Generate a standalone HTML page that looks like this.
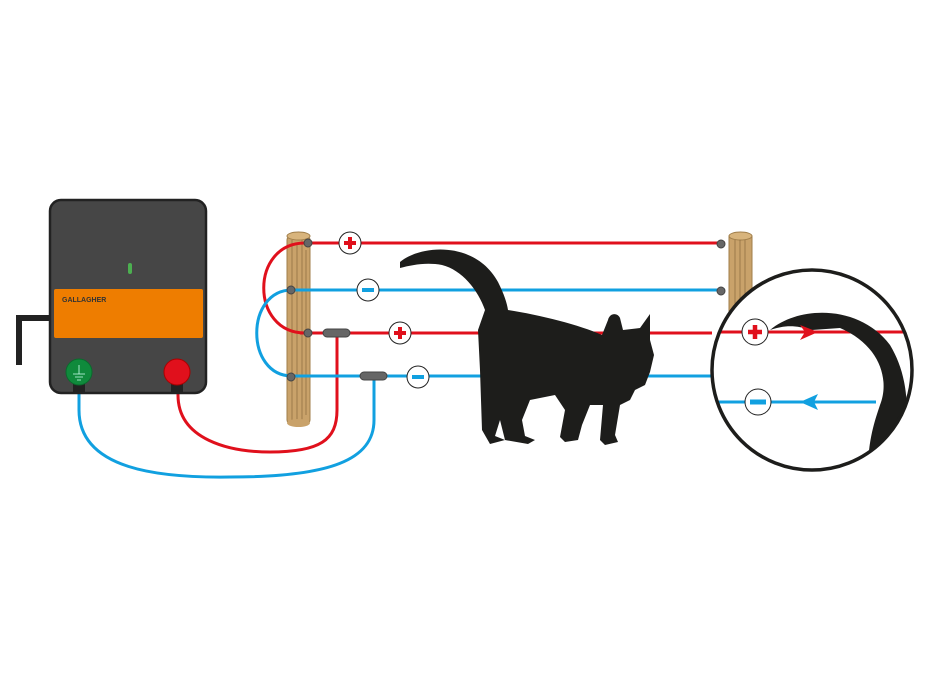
<!DOCTYPE html>
<html><head><style>body{margin:0;background:#fff}svg{display:block}</style></head><body>
<svg width="930" height="680" viewBox="0 0 930 680" xmlns="http://www.w3.org/2000/svg">
<path d="M19,365 L19,318 L50,318" fill="none" stroke="#222" stroke-width="6"/>
<path d="M79,380 L79,410 C79,470 160,478 230,477 C330,477 374,460 374,420 L374,376" fill="none" stroke="#11a0e0" stroke-width="3"/>
<path d="M178,380 L178,395 C178,440 230,452 270,452 C320,452 337,440 337,410 L337,333" fill="none" stroke="#e0101c" stroke-width="3"/>
<rect x="50" y="200" width="156" height="193" rx="11" fill="#464646" stroke="#222" stroke-width="2.5"/>
<rect x="54" y="289" width="149" height="49" rx="2" fill="#ee7d00"/>
<text x="62" y="302" font-family="Liberation Sans,sans-serif" font-size="7" font-weight="bold" fill="#333">GALLAGHER</text>
<rect x="128" y="263" width="4" height="11" rx="2" fill="#4caf50"/>
<rect x="73" y="380" width="12" height="12" fill="#222"/>
<rect x="171" y="380" width="12" height="12" fill="#222"/>
<circle cx="79" cy="372" r="13" fill="#0f8a3c" stroke="#0a6a2c"/>
<path d="M79,365 V374 M73,374 H85 M75,377 H83 M77,380 H81" stroke="#cfe" stroke-width="0.8" fill="none"/>
<circle cx="177" cy="372" r="13" fill="#e0101c" stroke="#a00"/>
<rect x="287" y="236" width="23" height="188" rx="4" fill="#c9a26a" stroke="#a07e4a"/>
<ellipse cx="298.5" cy="236" rx="11.5" ry="4" fill="#d8b47c" stroke="#a07e4a"/>
<path d="M292,240V420M297,245V422M302,240V420M306,250V415" stroke="#8a6a3e" stroke-width="0.7"/>
<ellipse cx="298.5" cy="423" rx="11.5" ry="4" fill="#c9a26a"/>
<rect x="729" y="236" width="23" height="90" fill="#c9a26a" stroke="#a07e4a"/>
<ellipse cx="740.5" cy="236" rx="11.5" ry="4" fill="#d8b47c" stroke="#a07e4a"/>
<path d="M735,240V320M740,240V320M745,240V320" stroke="#8a6a3e" stroke-width="0.7"/>
<path d="M305,243 C250,243 250,333 305,333" fill="none" stroke="#e0101c" stroke-width="3"/>
<path d="M292,290 C245,290 245,376 292,376" fill="none" stroke="#11a0e0" stroke-width="3"/>
<line x1="305" y1="243" x2="725" y2="243" stroke="#e0101c" stroke-width="3"/>
<line x1="290" y1="290" x2="725" y2="290" stroke="#11a0e0" stroke-width="3"/>
<line x1="300" y1="333" x2="712" y2="333" stroke="#e0101c" stroke-width="3"/>
<line x1="290" y1="376" x2="712" y2="376" stroke="#11a0e0" stroke-width="3"/>
<g fill="#666" stroke="#444">
<circle cx="308" cy="243" r="4"/><circle cx="291" cy="290" r="4"/><circle cx="308" cy="333" r="4"/><circle cx="291" cy="377" r="4"/>
<circle cx="721" cy="244" r="4"/><circle cx="721" cy="291" r="4"/>
<rect x="323" y="329" width="27" height="8" rx="4"/><rect x="360" y="372" width="27" height="8" rx="4"/>
</g>
<g stroke="#222" stroke-width="1" fill="#fff">
<circle cx="350" cy="243" r="11"/><circle cx="368" cy="290" r="11"/><circle cx="400" cy="333" r="11"/><circle cx="418" cy="377" r="11"/>
</g>
<path d="M350,237V249M344,243H356M400,327V339M394,333H406" stroke="#e0101c" stroke-width="4"/>
<path d="M362,290H374M412,377H424" stroke="#11a0e0" stroke-width="4"/>
<path d="M400,262 C420,245 475,240 498,282 C504,294 507,303 508,310 C540,315 580,325 602,335 L608,320 C610,312 618,313 620,318 L623,330 L640,328 L650,314 L650,340 L654,355 L650,372 L645,385 L635,390 L630,400 L620,405 L615,435 L618,442 L605,445 L600,440 L603,405 L590,405 L582,425 L578,440 L565,442 L560,437 L565,410 L555,395 L530,400 L522,420 L525,436 L535,440 L528,444 L505,440 L500,420 L495,436 L505,440 L490,444 L482,430 L480,370 L478,330 L485,310 C478,290 462,270 442,265 C426,262 412,265 400,268 Z" fill="#1d1d1b"/>
<circle cx="812" cy="370" r="100" fill="#fff"/>
<clipPath id="c"><circle cx="812" cy="370" r="100"/></clipPath>
<g clip-path="url(#c)">
<line x1="700" y1="332" x2="915" y2="332" stroke="#e0101c" stroke-width="3"/>
<line x1="700" y1="402" x2="876" y2="402" stroke="#11a0e0" stroke-width="3"/>
<path d="M770,330 C800,305 860,305 890,345 C905,370 910,400 905,440 L880,470 L868,470 C868,440 875,420 880,405 C890,380 880,345 840,328 L812,330 C795,325 785,325 770,330 Z" fill="#1d1d1b"/>
<path d="M840,335 C870,345 885,370 878,400" fill="none" stroke="#fff" stroke-width="2.5"/>
<path d="M800,325 L818,332 L800,340 L805,332 Z" fill="#e0101c"/>
<path d="M800,402 L818,394 L814,402 L818,410 Z" fill="#11a0e0"/>
</g>
<circle cx="812" cy="370" r="100" fill="none" stroke="#1d1d1b" stroke-width="3.5"/>
<circle cx="755" cy="332" r="13" fill="#fff" stroke="#222"/>
<path d="M755,325V339M748,332H762" stroke="#e0101c" stroke-width="4.5"/>
<circle cx="758" cy="402" r="13" fill="#fff" stroke="#222"/>
<path d="M750,402H766" stroke="#11a0e0" stroke-width="5"/>
</svg>
</body></html>
